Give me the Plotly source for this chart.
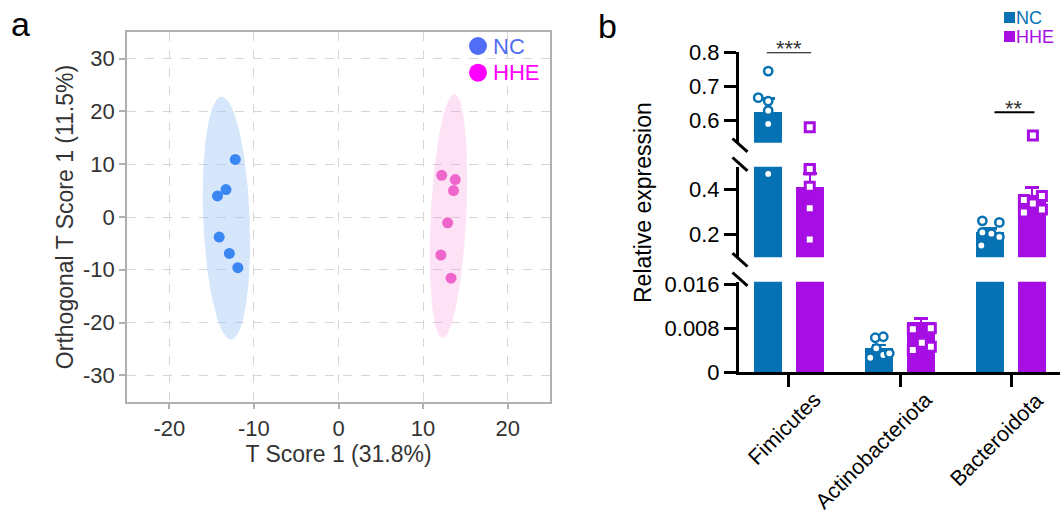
import numpy as np
import plotly.graph_objects as go

W, H = 1062, 521
FONT = "Liberation Sans, Arial, Helvetica, sans-serif"

# ---------------- Panel a : OPLS-DA score plot ----------------
groups = ["NC", "HHE"]
nc_t = [-12.2, -13.3, -14.3, -14.1, -12.9, -11.9]
nc_o = [10.9, 5.2, 4.0, -3.8, -6.9, -9.6]
hhe_t = [12.2, 13.8, 13.6, 12.9, 12.1, 13.3]
hhe_o = [7.9, 7.1, 5.0, -1.1, -7.2, -11.6]
# confidence ellipses: centre, half major-axis vector, half minor width
ell_center = [(-13.25, -0.2), (13.0, 0.2)]
ell_major = [(-0.55, 23.0), (0.7, 23.1)]
ell_minor = [2.75, 2.1]
a_xticks = [-20, -10, 0, 10, 20]
a_xticklabels = ["-20", "-10", "0", "10", "20"]
a_yticks = [-30, -20, -10, 0, 10, 20, 30]
a_yticklabels = ["-30", "-20", "-10", "0", "10", "20", "30"]

# ---------------- Panel b : relative expression ----------------
phyla = ["Fimicutes", "Actinobacteriota", "Bacteroidota"]
nc_mean = [0.625, 0.0044, 0.212]
nc_sem = [0.040, 0.0006, 0.016]
hhe_mean = [0.411, 0.0092, 0.375]
hhe_sem = [0.058, 0.0006, 0.034]
nc_points = [[0.745, 0.667, 0.657, 0.629, 0.590, 0.468],
             [0.00629, 0.00647, 0.00436, 0.00265, 0.00315, 0.00345],
             [0.261, 0.254, 0.210, 0.2045, 0.190, 0.152]]
nc_jitter = [[0.0, -0.09, 0.0, 0.0, 0.0, 0.0],
             [-0.036, 0.036, -0.027, -0.081, 0.036, 0.09],
             [-0.072, 0.081, -0.072, 0.009, 0.081, -0.081]]
hhe_points = [[0.580, 0.4875, 0.490, 0.411, 0.317, 0.179],
              [0.00405, 0.00465, 0.00538, 0.00782, 0.0080],
              [0.353, 0.371, 0.337, 0.298, 0.3105, 0.556]]
hhe_jitter = [[0.0, 0.0, 0.0, 0.0, 0.0, 0.0],
              [-0.072, 0.09, 0.009, -0.072, 0.09],
              [-0.072, 0.09, 0.009, -0.072, 0.09, 0.009]]
sig_labels = ["***", "", "**"]
sig_level = [0.80, None, 0.624]
# broken y-axis segments: (axis, range, tickvals, ticktext)
segments = [
    ("y3", [0, 0.0165], [0, 0.008, 0.016], ["0", "0.008", "0.016"]),
    ("y4", [0.1, 0.5], [0.2, 0.4], ["0.2", "0.4"]),
    ("y5", [0.535, 0.8], [0.6, 0.7, 0.8], ["0.6", "0.7", "0.8"]),
]

# ---------------- styles ----------------
pt_color = {"NC": "#3a86f3", "HHE": "#ee66cc"}
leg_a_color = {"NC": "#4f6ef5", "HHE": "#ff00ff"}
ell_fill = {"NC": "rgba(150,190,245,0.39)", "HHE": "rgba(245,130,215,0.24)"}
bar_color = {"NC": "#0772b3", "HHE": "#a60ee3"}


def px(xp):
    return xp / W


def py(yp):
    return 1 - yp / H


fig = go.Figure()

# ---- panel a traces
scores = {"NC": (nc_t, nc_o), "HHE": (hhe_t, hhe_o)}
t = np.linspace(0, 2 * np.pi, 160)
for k, g in enumerate(groups):
    cx, cy = ell_center[k]
    mx, my = ell_major[k]
    b = ell_minor[k]
    fig.add_trace(go.Scatter(
        x=cx + mx * np.sin(t) + b * np.cos(t), y=cy + my * np.sin(t),
        mode="lines", fill="toself", fillcolor=ell_fill[g], line=dict(width=0),
        hoverinfo="skip", showlegend=False, xaxis="x", yaxis="y"))
for g in groups:
    xs, ys = scores[g]
    fig.add_trace(go.Scatter(
        x=xs, y=ys, mode="markers", name=g, showlegend=False,
        marker=dict(size=11, color=pt_color[g], line=dict(width=0)),
        xaxis="x", yaxis="y"))

# ---- panel b traces
cat_idx = list(range(len(phyla)))
BAR_W = 0.252
OFF = {"NC": -0.187, "HHE": 0.187}
means = {"NC": nc_mean, "HHE": hhe_mean}
sems = {"NC": nc_sem, "HHE": hhe_sem}
pts = {"NC": nc_points, "HHE": hhe_points}
jit = {"NC": nc_jitter, "HHE": hhe_jitter}
symbol = {"NC": "circle", "HHE": "square"}
msize = {"NC": 8.3, "HHE": 9}
mline = {"NC": 2.5, "HHE": 3}

for ax, rng, tv, tt in segments:
    for g in groups:
        fig.add_trace(go.Bar(
            x=cat_idx, y=means[g], width=BAR_W, offset=OFF[g] - BAR_W / 2,
            marker=dict(color=bar_color[g], line=dict(width=0)),
            error_y=dict(type="data", array=sems[g], symmetric=True, visible=True,
                         color=bar_color[g], thickness=2.5, width=7),
            name=g, showlegend=False, xaxis="x2", yaxis=ax))
    # individual points: each drawn on the axis segment whose range holds it
    for g in groups:
        xs, ys = [], []
        for i in cat_idx:
            for v, j in zip(pts[g][i], jit[g][i]):
                if rng[0] <= v <= rng[1]:
                    xs.append(i + OFF[g] + j)
                    ys.append(v)
        fig.add_trace(go.Scatter(
            x=xs, y=ys, mode="markers", showlegend=False, name=g, cliponaxis=False,
            marker=dict(symbol=symbol[g], size=msize[g], color="white",
                        line=dict(color=bar_color[g], width=mline[g])),
            xaxis="x2", yaxis=ax))

shapes = []
annotations = []

# ---- rotated category labels
for i, lab in enumerate(phyla):
    annotations.append(dict(text=lab, xref="x2", yref="paper", x=i, y=py(387),
                            xanchor="right", yanchor="top", xshift=38, textangle=-45,
                            showarrow=False, borderpad=0,
                            font=dict(family=FONT, size=21.5, color="black")))

# ---- significance brackets
sig_span = [(-0.2, 0.2), None, (-0.15, 0.21)]
for i, lab in enumerate(sig_labels):
    if not lab:
        continue
    x0, x1 = sig_span[i]
    shapes.append(dict(type="line", xref="x2", yref="y5", x0=i + x0, x1=i + x1,
                       y0=sig_level[i], y1=sig_level[i],
                       line=dict(color="black", width=2)))
    annotations.append(dict(text=lab, xref="x2", yref="y5", x=i + (x0 + x1) / 2,
                            y=sig_level[i], yanchor="bottom", xanchor="center",
                            yshift=-11, showarrow=False,
                            font=dict(family=FONT, size=22, color="#333333")))

# ---- axis break marks
breaks = [(142.7, 166.7), (257.3, 281.7)]
for yb, yt in breaks:
    for yc in (yb + 2.5, yt - 2.5):
        shapes.append(dict(type="line", xref="paper", yref="paper",
                           x0=px(732.5), x1=px(747.5), y0=py(yc - 6.7), y1=py(yc + 6.7),
                           line=dict(color="black", width=3)))

# ---- custom legend, panel a
for k, g in enumerate(groups):
    yc = 46 + 26.7 * k
    shapes.append(dict(type="circle", xref="paper", yref="paper",
                       xsizemode="pixel", ysizemode="pixel",
                       xanchor=px(478), yanchor=py(yc), x0=-9, x1=9, y0=-9, y1=9,
                       fillcolor=leg_a_color[g], line=dict(width=0)))
    annotations.append(dict(text=g, xref="paper", yref="paper", x=px(492), y=py(yc),
                            xanchor="left", yanchor="middle", showarrow=False,
                            borderpad=0,
                            font=dict(family=FONT, size=22, color=leg_a_color[g])))

# ---- custom legend, panel b
for k, g in enumerate(groups):
    yc = 17.5 + 19 * k
    shapes.append(dict(type="rect", xref="paper", yref="paper",
                       x0=px(1004), x1=px(1015), y0=py(yc - 5.5), y1=py(yc + 5.5),
                       fillcolor=bar_color[g], line=dict(width=0)))
    annotations.append(dict(text=g, xref="paper", yref="paper", x=px(1015), y=py(yc),
                            xanchor="left", yanchor="middle", showarrow=False,
                            borderpad=0,
                            font=dict(family=FONT, size=18, color=bar_color[g])))

# ---- panel letters and b y-title
annotations.append(dict(text="a", xref="paper", yref="paper", x=px(20), y=py(24),
                        xanchor="center", yanchor="middle", showarrow=False,
                        font=dict(family=FONT, size=34, color="black")))
annotations.append(dict(text="b", xref="paper", yref="paper", x=px(607), y=py(26),
                        xanchor="center", yanchor="middle", showarrow=False,
                        font=dict(family=FONT, size=34, color="black")))
annotations.append(dict(text="Relative expression", xref="paper", yref="paper",
                        x=px(643), y=py(203), textangle=-90,
                        xanchor="center", yanchor="middle", showarrow=False,
                        font=dict(family=FONT, size=23, color="black")))

grey = "#b0b0b0"
axis_a = dict(showline=True, mirror=True, linecolor=grey, linewidth=1.5,
              ticks="outside", ticklen=6, tickcolor=grey, tickwidth=1.5,
              showgrid=True, gridcolor="#d6d6d6", griddash="dash", gridwidth=1,
              zeroline=False, tickfont=dict(family=FONT, size=22, color="#333333"),
              automargin=False)

layout = dict(
    width=W, height=H, margin=dict(l=0, r=0, t=0, b=0), autosize=False,
    paper_bgcolor="white", plot_bgcolor="rgba(0,0,0,0)",
    font=dict(family=FONT, color="black"),
    showlegend=False,
    xaxis=dict(axis_a, domain=[px(127), px(550)], range=[-25, 25], anchor="y",
               tickmode="array", tickvals=a_xticks, ticktext=a_xticklabels,
               title=dict(text="T Score 1 (31.8%)", standoff=4,
                          font=dict(family=FONT, size=23, color="#333333"))),
    yaxis=dict(axis_a, domain=[py(401.7), py(32.3)], range=[-35, 35], anchor="x",
               tickmode="array", tickvals=a_yticks, ticktext=a_yticklabels,
               title=dict(text="Orthogonal T Score 1 (11.5%)", standoff=3,
                          font=dict(family=FONT, size=23, color="#333333"))),
    xaxis2=dict(domain=[px(739), px(1060)], range=[-0.45, 2.44], anchor="y3",
                showline=True, linecolor="black", linewidth=3, showgrid=False,
                zeroline=False, ticks="outside", ticklen=12, tickwidth=3, tickcolor="black",
                tickmode="array", tickvals=cat_idx, showticklabels=False,
                automargin=False),
    shapes=shapes, annotations=annotations, bargap=0, barmode="overlay",
)

seg_domains = {"y3": (372.3, 281.7), "y4": (257.3, 166.7), "y5": (142.7, 52.3)}
for ax, rng, tv, tt in segments:
    lo, hi = seg_domains[ax]
    layout["yaxis" + ax[1:]] = dict(
        domain=[py(lo), py(hi)], range=rng, anchor="x2",
        showline=True, linecolor="black", linewidth=3, showgrid=False, zeroline=False,
        ticks="outside", ticklen=12, tickwidth=3, tickcolor="black",
        tickmode="array", tickvals=tv, ticktext=tt,
        tickfont=dict(family=FONT, size=22, color="black"), automargin=False)

fig.update_layout(**layout)
fig.write_html("out.html")
